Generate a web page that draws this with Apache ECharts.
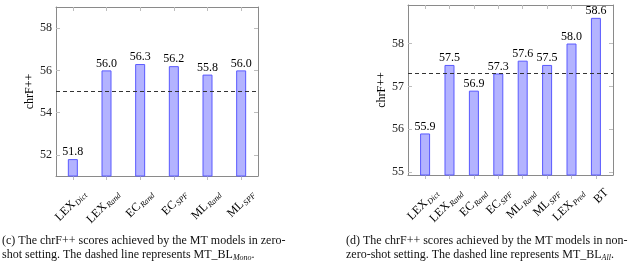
<!DOCTYPE html>
<html><head><meta charset="utf-8">
<script src="https://cdn.jsdelivr.net/npm/echarts@6/dist/echarts.min.js"></script>
<style>html,body{margin:0;padding:0;background:#fff}#c{width:640px;height:264px}</style>
</head><body><div id="c"></div>
<script>
// Data
const catsLeft = ['LEX_Dict','LEX_Rand','EC_Rand','EC_SPF','ML_Rand','ML_SPF'];
const valsLeft = [51.8, 56.0, 56.3, 56.2, 55.8, 56.0];
const baselineLeft = 55.0;
const yTicksLeft = [52, 54, 56, 58];

const catsRight = ['LEX_Dict','LEX_Rand','EC_Rand','EC_SPF','ML_Rand','ML_SPF','LEX_Pred','BT'];
const valsRight = [55.9, 57.5, 56.9, 57.3, 57.6, 57.5, 58.0, 58.6];
const baselineRight = 57.3;
const yTicksRight = [55, 56, 57, 58];

const yName = 'chrF++';
const captionLeft = '(c) The chrF++ scores achieved by the MT models in zero-\nshot setting. The dashed line represents MT_BL{s|Mono}.';
const captionRight = '(d) The chrF++ scores achieved by the MT models in non-\nzero-shot setting. The dashed line represents MT_BL{s|All}.';

const FONT = 'Liberation Serif';
const BOX = '#8a8a8a';
const TICK = '#bdbdbd';
const FILL = '#b3b3ff';
const EDGE = '#5a5aff';

function catLabel(cats) {
  return function (v) {
    const c = cats[Math.round(v)];
    if (c === undefined) return '';
    const p = c.split('_');
    return p.length > 1 ? '{m|' + p[0] + '}{s|' + p[1] + '}' : '{m|' + p[0] + '}';
  };
}
const richX = {
  m: {fontFamily: FONT, fontSize: 12, color: '#000'},
  s: {fontFamily: FONT, fontSize: 8, fontStyle: 'italic', color: '#000', padding: [6, 0, 0, 1]}
};

function idx(n) { return Array.from({length: n}, (_, i) => i); }

function makeX(gi, cats, min, max) {
  const ticks = idx(cats.length);
  return [
    {type: 'value', gridIndex: gi, min: min, max: max, position: 'bottom',
     splitLine: {show: false},
     axisLine: {show: true, onZero: false, lineStyle: {color: BOX, width: 1}},
     axisTick: {show: true, customValues: ticks, length: 4, inside: false, lineStyle: {color: TICK}},
     axisLabel: {show: true, customValues: ticks, rotate: 45, margin: 5,
                 verticalAlign: 'top', padding: [9, 0, 0, 0],
                 formatter: catLabel(cats), rich: richX}},
    {type: 'value', gridIndex: gi, min: min, max: max, position: 'top',
     splitLine: {show: false},
     axisLine: {show: true, onZero: false, lineStyle: {color: BOX, width: 1}},
     axisTick: {show: true, customValues: ticks, length: 4, inside: true, lineStyle: {color: TICK}},
     axisLabel: {show: false}}
  ];
}
function makeY(gi, ticks, min, max, gap) {
  return [
    {type: 'value', gridIndex: gi, min: min, max: max, position: 'left',
     name: yName, nameLocation: 'middle', nameGap: gap, nameRotate: 90,
     nameTextStyle: {fontFamily: FONT, fontSize: 12, color: '#000'},
     splitLine: {show: false},
     axisLine: {show: true, onZero: false, lineStyle: {color: BOX, width: 1}},
     axisTick: {show: true, customValues: ticks, length: 4, inside: true, lineStyle: {color: TICK}},
     axisLabel: {show: true, customValues: ticks, margin: 4, fontFamily: FONT, fontSize: 12, color: '#222'}},
    {type: 'value', gridIndex: gi, min: min, max: max, position: 'right',
     splitLine: {show: false},
     axisLine: {show: true, onZero: false, lineStyle: {color: BOX, width: 1}},
     axisTick: {show: true, customValues: ticks, length: 4, inside: true, lineStyle: {color: TICK}},
     axisLabel: {show: false}}
  ];
}
function makeBar(xi, yi, vals, base) {
  return {
    type: 'bar', xAxisIndex: xi, yAxisIndex: yi, barWidth: 10,
    data: vals.map((v, i) => [i, v]),
    itemStyle: {color: FILL, borderColor: EDGE, borderWidth: 1},
    label: {show: true, position: 'top', distance: 1, fontFamily: FONT, fontSize: 12, color: '#000',
            formatter: p => p.value[1].toFixed(1)},
    markLine: {silent: true, symbol: 'none', label: {show: false},
               lineStyle: {color: '#333', type: [4, 3], width: 1},
               data: [{yAxis: base}]},
    animation: false
  };
}

const chart = echarts.init(document.getElementById('c'), null, {renderer: 'canvas'});
const capStyle = {fontFamily: FONT, fontSize: 12, fontWeight: 'normal', color: '#111', lineHeight: 14,
  rich: {s: {fontFamily: FONT, fontSize: 8, fontStyle: 'italic', color: '#111', padding: [5, 0, 0, 0]}}};
chart.setOption({
  animation: false,
  grid: [
    {left: 56, top: 7, width: 202, height: 169},
    {left: 408, top: 5, width: 205, height: 170}
  ],
  xAxis: [...makeX(0, catsLeft, -0.5, 5.5), ...makeX(1, catsRight, -0.7, 7.7)],
  yAxis: [...makeY(0, yTicksLeft, 51, 59, 19), ...makeY(1, yTicksRight, 54.93, 58.9, 20)],
  series: [makeBar(0, 0, valsLeft, baselineLeft), makeBar(2, 2, valsRight, baselineRight)],
  title: [
    {text: captionLeft, left: 2, top: 234, padding: 0, textStyle: capStyle},
    {text: captionRight, left: 346, top: 234, padding: 0, textStyle: capStyle}
  ]
});
</script></body></html>
